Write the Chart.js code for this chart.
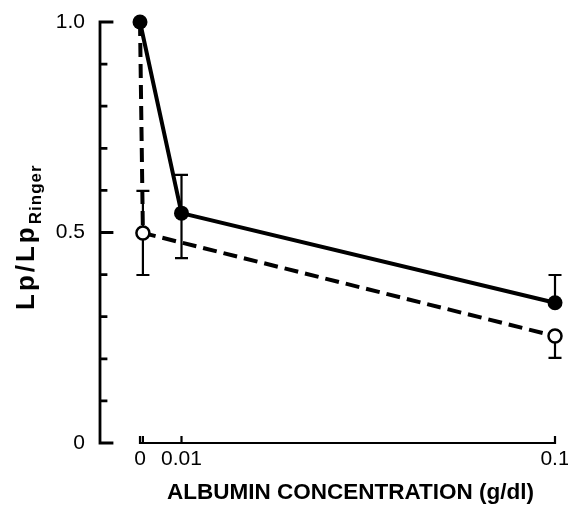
<!DOCTYPE html>
<html>
<head>
<meta charset="utf-8">
<script src="https://cdn.jsdelivr.net/npm/chart.js@4/dist/chart.umd.min.js"></script>
<style>
  body { margin: 0; background: #fff; }
</style>
</head>
<body>
<canvas id="chart" width="568" height="509"></canvas>
<script>
// solid line, filled circles
const concSolid = [0, 0.01, 0.1];
const lpSolid = [1.0, 0.546, 0.333];
const solidErrHigh = [null, 0.637, 0.399];
const solidErrLow = [null, 0.439, null];

// dashed line, open circles
const concOpen = [0, 0.0007, 0.1];
const lpOpen = [1.0, 0.499, 0.254];
const openErrHigh = [null, 0.599, null];
const openErrLow = [null, 0.399, 0.202];

const xTicks = [0, 0.01, 0.1];
const xTickLabels = ["0", "0.01", "0.1"];
const yTicks = [0, 0.5, 1.0];
const yTickLabels = ["0", "0.5", "1.0"];
const yMinorStep = 0.1;

const xTitle = "ALBUMIN CONCENTRATION (g/dl)";
const yTitle = "Lp/Lp";
const yTitleSub = "Ringer";

const tickFont = { family: "Liberation Sans", size: 21 };

const toPoints = (xs, ys) => xs.map((x, i) => ({ x: x, y: ys[i] }));

const errorBars = {
  id: "errorBars",
  beforeDatasetsDraw(chart) {
    const ctx = chart.ctx;
    const xs = chart.scales.x;
    const ys = chart.scales.y;
    const sets = [
      [concSolid, lpSolid, solidErrLow, solidErrHigh],
      [concOpen, lpOpen, openErrLow, openErrHigh],
    ];
    ctx.save();
    ctx.strokeStyle = "#000";
    ctx.lineWidth = 2.2;
    sets.forEach(([cx, cy, lo, hi]) => {
      cx.forEach((c, i) => {
        const px = xs.getPixelForValue(c);
        [lo[i], hi[i]].forEach((v) => {
          if (v === null) return;
          const py = ys.getPixelForValue(v);
          ctx.beginPath();
          ctx.moveTo(px, ys.getPixelForValue(cy[i]));
          ctx.lineTo(px, py);
          ctx.moveTo(px - 6.5, py);
          ctx.lineTo(px + 6.5, py);
          ctx.stroke();
        });
      });
    });
    ctx.restore();
  },
};

const axesAndTitles = {
  id: "axesAndTitles",
  afterDraw(chart) {
    const ctx = chart.ctx;
    const xs = chart.scales.x;
    const ys = chart.scales.y;
    const left = chart.chartArea.left;
    const y0 = ys.getPixelForValue(0);
    ctx.save();
    ctx.strokeStyle = "#000";
    ctx.lineCap = "square";

    // y axis with inward ticks
    ctx.lineWidth = 2.8;
    ctx.beginPath();
    ctx.moveTo(left, ys.getPixelForValue(1));
    ctx.lineTo(left, y0);
    for (let i = 0; i <= 10; i++) {
      const v = i * yMinorStep;
      const py = ys.getPixelForValue(v);
      const major = yTicks.some((t) => Math.abs(t - v) < 1e-9);
      ctx.moveTo(left, py);
      ctx.lineTo(left + (major ? 12 : 6), py);
    }
    ctx.stroke();

    // x axis, starting at concentration 0
    ctx.lineWidth = 2.2;
    ctx.beginPath();
    ctx.moveTo(xs.getPixelForValue(0), y0);
    ctx.lineTo(xs.getPixelForValue(0.1), y0);
    xTicks.concat([concOpen[1]]).forEach((v) => {
      const px = xs.getPixelForValue(v);
      ctx.moveTo(px, y0);
      ctx.lineTo(px, y0 - 6);
    });
    ctx.stroke();

    ctx.fillStyle = "#000";
    // x title
    ctx.font = "bold 22.5px 'Liberation Sans'";
    ctx.textAlign = "center";
    ctx.textBaseline = "alphabetic";
    const mid = (xs.getPixelForValue(0) + xs.getPixelForValue(0.1)) / 2;
    ctx.fillText(xTitle, mid + 3, 499);

    // y title with subscript
    ctx.translate(34, 310);
    ctx.rotate(-Math.PI / 2);
    ctx.textAlign = "left";
    ctx.font = "bold 26px 'Liberation Sans'";
    ctx.letterSpacing = "3px";
    ctx.fillText(yTitle, 0, 0);
    const w = ctx.measureText(yTitle).width;
    ctx.font = "bold 17px 'Liberation Sans'";
    ctx.letterSpacing = "1px";
    ctx.fillText(yTitleSub, w, 7);
    ctx.restore();
  },
};

new Chart(document.getElementById("chart"), {
  type: "scatter",
  data: {
    datasets: [
      {
        label: "solid",
        data: toPoints(concSolid, lpSolid),
        showLine: true,
        borderColor: "#000",
        borderWidth: 4,
        pointRadius: 7.5,
        pointBackgroundColor: "#000",
        pointBorderColor: "#000",
        pointBorderWidth: 0,
        order: 0,
        clip: false,
      },
      {
        label: "dashed",
        data: toPoints(concOpen, lpOpen),
        showLine: true,
        borderColor: "#000",
        borderWidth: 4,
        borderDash: [14, 7],
        pointRadius: [0, 6.5, 6.5],
        pointBackgroundColor: "#fff",
        pointBorderColor: "#000",
        pointBorderWidth: 2.5,
        order: 1,
        clip: false,
      },
    ],
  },
  options: {
    responsive: false,
    animation: false,
    layout: { padding: { left: 0, top: 22, right: 13, bottom: 0 } },
    plugins: { legend: { display: false }, tooltip: { enabled: false } },
    scales: {
      x: {
        type: "linear",
        min: -0.00964,
        max: 0.1,
        grid: { display: false },
        border: { display: false },
        afterBuildTicks: (s) => {
          s.ticks = xTicks.map((v) => ({ value: v }));
        },
        afterFit: (s) => {
          s.height = 66;
        },
        ticks: {
          callback: (v, i) => xTickLabels[i],
          font: tickFont,
          color: "#000",
          padding: -4,
          maxRotation: 0,
          autoSkip: false,
        },
      },
      y: {
        min: 0,
        max: 1,
        grid: { display: false },
        border: { display: false },
        afterBuildTicks: (s) => {
          s.ticks = yTicks.map((v) => ({ value: v }));
        },
        afterFit: (s) => {
          s.width = 100;
        },
        ticks: {
          callback: (v, i) => yTickLabels[i],
          font: tickFont,
          color: "#000",
          padding: 7,
        },
      },
    },
  },
  plugins: [errorBars, axesAndTitles],
});
</script>
</body>
</html>
